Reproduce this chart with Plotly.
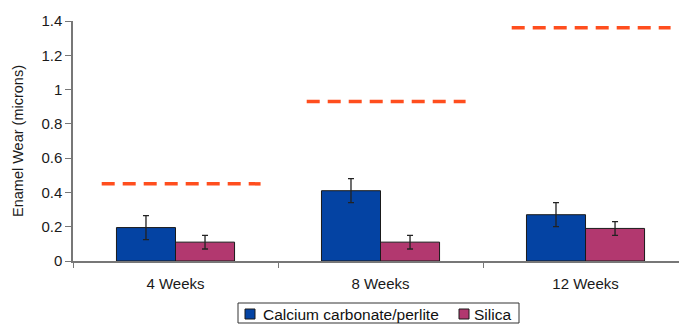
import plotly.graph_objects as go

# Enamel wear after brushing with two abrasive systems
periods = ["4 Weeks", "8 Weeks", "12 Weeks"]
calcium_wear = [0.195, 0.41, 0.27]
calcium_err = [0.07, 0.07, 0.07]
silica_wear = [0.11, 0.11, 0.19]
silica_err = [0.04, 0.04, 0.04]
reference_level = [0.45, 0.93, 1.36]
y_ticks = [0, 0.2, 0.4, 0.6, 0.8, 1, 1.2, 1.4]

series_names = ["Calcium carbonate/perlite", "Silica"]
series_colors = ["#0443A3", "#B2386F"]

idx = list(range(len(periods)))
font = "Liberation Sans, Arial, sans-serif"

# plot area in pixels (left, right, top, bottom) for the compact legend box
L, R, T, B = 73, 679, 21, 261


def px_x(p):
    return (p - L) / (R - L)


def px_y(p):
    return (B - p) / (B - T)


fig = go.Figure()
for name, color, vals, errs in zip(series_names, series_colors,
                                   [calcium_wear, silica_wear],
                                   [calcium_err, silica_err]):
    fig.add_trace(go.Bar(
        x=idx, y=vals, name=name, showlegend=False,
        marker=dict(color=color, line=dict(color="#1a1a1a", width=1)),
        error_y=dict(type="data", array=errs, color="#222", thickness=1.3, width=3),
    ))

# dashed reference level over each period
for i, lvl in zip(idx, reference_level):
    fig.add_trace(go.Scatter(
        x=[i - 0.36, i + 0.415], y=[lvl, lvl], mode="lines",
        line=dict(color="#FF4E1E", width=3.5, dash="13px,8px"),
        showlegend=False, hoverinfo="skip",
    ))

# compact boxed legend below the axis
shapes = [dict(type="rect", xref="paper", yref="paper",
               x0=px_x(238), x1=px_x(519), y0=px_y(303), y1=px_y(323),
               line=dict(color="#333", width=1), fillcolor="white")]
annotations = []
for name, color, sx, tx in zip(series_names, series_colors, [245, 459], [261, 472]):
    shapes.append(dict(type="rect", xref="paper", yref="paper",
                       x0=px_x(sx), x1=px_x(sx + 10), y0=px_y(309), y1=px_y(319),
                       line=dict(color="#1a1a1a", width=1), fillcolor=color))
    annotations.append(dict(text=name, xref="paper", yref="paper",
                            x=px_x(tx), y=px_y(314), xanchor="left", yanchor="middle",
                            showarrow=False, font=dict(size=15.5, color="#111")))

fig.update_layout(
    width=679, height=325,
    margin=dict(l=L, r=0, t=T, b=325 - B, autoexpand=False),
    paper_bgcolor="white", plot_bgcolor="white",
    barmode="group", bargap=0.424, bargroupgap=0,
    font=dict(family=font, size=15, color="#1a1a1a"),
    shapes=shapes, annotations=annotations,
    xaxis=dict(
        range=[-0.5, 2.456], tickvals=idx, ticktext=periods, ticks="",
        showline=True, linecolor="#777", linewidth=1.5, showgrid=False,
        zeroline=False, automargin=False, ticklabelstandoff=8,
        tickfont=dict(size=15, color="#1a1a1a"),
        minor=dict(tickvals=[-0.5, 0.5, 1.5], ticks="outside", ticklen=5,
                   tickcolor="#777", tickwidth=1.2),
    ),
    yaxis=dict(
        range=[0, 1.4], tickvals=y_ticks,
        ticktext=["0", "0.2", "0.4", "0.6", "0.8", "1", "1.2", "1.4"],
        ticks="outside", ticklen=6, tickcolor="#777", tickwidth=1.2,
        showline=True, linecolor="#777", linewidth=1.5, showgrid=False,
        zeroline=False, automargin=False, tickfont=dict(size=15, color="#1a1a1a"),
        title=dict(text="Enamel Wear (microns)", font=dict(size=14.5, color="#1a1a1a"),
                   standoff=14),
    ),
)

fig.write_html("out.html")
